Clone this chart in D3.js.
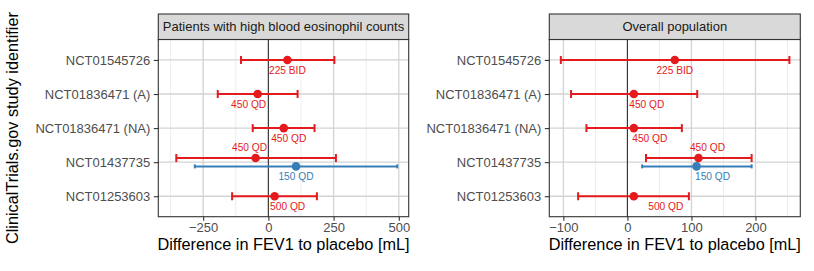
<!DOCTYPE html>
<html>
<head>
<meta charset="utf-8">
<script src="https://cdn.jsdelivr.net/npm/d3@7"></script>
<style>
  body { margin: 0; background: #fff; }
  svg { font-family: "Liberation Sans", Arial, Helvetica, sans-serif; }
</style>
</head>
<body>
<div id="chart"></div>
<script>
// Study identifiers (y categories, top to bottom)
var studies = ["NCT01545726", "NCT01836471 (A)", "NCT01836471 (NA)", "NCT01437735", "NCT01253603"];

// Rows shared by both panels
var rowStudy = ["NCT01545726", "NCT01836471 (A)", "NCT01836471 (NA)", "NCT01437735", "NCT01437735", "NCT01253603"];
var rowDose  = ["225 BID", "450 QD", "450 QD", "450 QD", "150 QD", "500 QD"];
var rowArm   = ["high", "high", "high", "high", "low", "high"];

// Patients with high blood eosinophil counts
var eosEst = [73, -41, 59, -49, 106, 24];
var eosLo  = [-105, -194, -60, -353, -282, -139];
var eosHi  = [253, 112, 177, 259, 494, 186];

// Overall population
var allEst = [74, 10, 10, 111, 108, 10];
var allLo  = [-104, -88, -64, 29, 23, -77];
var allHi  = [253, 109, 85, 194, 194, 96];

var eosTicks = [-250, 0, 250, 500];
var allTicks = [-100, 0, 100, 200];

// label nudges (px) so the text does not sit on top of the points
var eosLabelDx = [0, -9, 5, -6, 0, 13];
var allLabelDx = [0, 13, 16, 9, 16, 32];
var labelAbove = [false, false, false, true, false, false];

var W = 814, H = 271;
var svg = d3.select("#chart").append("svg")
    .attr("width", W)
    .attr("height", H);

var color = d3.scaleOrdinal()
    .domain(["high", "low"])
    .range(["#E41A1C", "#377EB8"]);

var panelTop = 39.5, panelBottom = 216.7, stripTop = 14;

// ggplot style: categories at step centres, 0.6 step expansion
var y = d3.scalePoint().domain(studies).range([panelTop, panelBottom]).padding(0.6);

function buildRows(est, lo, hi, labelDx) {
    return rowStudy.map(function(s, i) {
        return {study: s, dose: rowDose[i], arm: rowArm[i],
                est: est[i], lo: lo[i], hi: hi[i], ldx: labelDx[i], above: labelAbove[i]};
    });
}

function drawPanel(opt) {
    var x = d3.scaleLinear().domain(opt.domain).range([opt.left, opt.right]);
    var g = svg.append("g");

    // minor grid lines halfway between ticks
    var step = opt.ticks[1] - opt.ticks[0];
    var minor = d3.range(opt.ticks[0] - step / 2, opt.domain[1], step)
        .filter(function(v) { return v > opt.domain[0] && v < opt.domain[1]; });
    g.selectAll(".minor").data(minor).join("line")
        .attr("x1", function(d) { return x(d); }).attr("x2", function(d) { return x(d); })
        .attr("y1", panelTop).attr("y2", panelBottom)
        .attr("stroke", "#e8e8e8").attr("stroke-width", 0.8);

    g.selectAll(".majorx").data(opt.ticks).join("line")
        .attr("x1", function(d) { return x(d); }).attr("x2", function(d) { return x(d); })
        .attr("y1", panelTop).attr("y2", panelBottom)
        .attr("stroke", "#d3d3d3").attr("stroke-width", 1.3);

    g.selectAll(".majory").data(studies).join("line")
        .attr("x1", opt.left).attr("x2", opt.right)
        .attr("y1", function(d) { return y(d); }).attr("y2", function(d) { return y(d); })
        .attr("stroke", "#d3d3d3").attr("stroke-width", 1.3);

    // zero line
    g.append("line")
        .attr("x1", x(0)).attr("x2", x(0))
        .attr("y1", panelTop).attr("y2", panelBottom)
        .attr("stroke", "#333").attr("stroke-width", 1.1);

    var rows = buildRows(opt.est, opt.lo, opt.hi, opt.labelDx);
    // dodge rows that share a study
    rows.forEach(function(r) {
        var same = rows.filter(function(o) { return o.study === r.study; });
        var k = same.indexOf(r);
        r.cy = y(r.study) + (k - (same.length - 1) / 2) * 8.4;
        r.capH = same.length > 1 && r.arm === "low" ? 2 : 4;
    });

    var bars = g.selectAll(".bar").data(rows).join("g")
        .attr("stroke", function(d) { return color(d.arm); })
        .attr("stroke-width", 2);
    bars.append("line")
        .attr("x1", function(d) { return x(d.lo); }).attr("x2", function(d) { return x(d.hi); })
        .attr("y1", function(d) { return d.cy; }).attr("y2", function(d) { return d.cy; });
    bars.each(function(d) {
        var b = d3.select(this);
        [d.lo, d.hi].forEach(function(v) {
            b.append("line")
                .attr("x1", x(v)).attr("x2", x(v))
                .attr("y1", d.cy - d.capH).attr("y2", d.cy + d.capH);
        });
    });

    g.selectAll(".pt").data(rows).join("circle")
        .attr("cx", function(d) { return x(d.est); })
        .attr("cy", function(d) { return d.cy; })
        .attr("r", 4.3)
        .attr("fill", function(d) { return color(d.arm); });

    g.selectAll(".lab").data(rows).join("text")
        .attr("x", function(d) { return x(d.est) + d.ldx; })
        .attr("y", function(d) { return d.cy + (d.above ? -11 : 10.5); })
        .attr("dy", "0.35em")
        .attr("text-anchor", "middle")
        .attr("font-size", "10.2px")
        .attr("fill", function(d) { return color(d.arm); })
        .text(function(d) { return d.dose; });

    // panel border
    g.append("rect")
        .attr("x", opt.left).attr("y", panelTop)
        .attr("width", opt.right - opt.left).attr("height", panelBottom - panelTop)
        .attr("fill", "none").attr("stroke", "#333").attr("stroke-width", 1.1);

    // strip
    g.append("rect")
        .attr("x", opt.left).attr("y", stripTop)
        .attr("width", opt.right - opt.left).attr("height", panelTop - stripTop)
        .attr("fill", "#d9d9d9").attr("stroke", "#333").attr("stroke-width", 1.1);
    g.append("text")
        .attr("x", (opt.left + opt.right) / 2).attr("y", (stripTop + panelTop) / 2)
        .attr("dy", "0.35em")
        .attr("text-anchor", "middle")
        .attr("font-size", "13px")
        .attr("fill", "#1a1a1a")
        .text(opt.title);

    // axes
    var xAxis = g.append("g")
        .attr("transform", "translate(0," + panelBottom + ")")
        .call(d3.axisBottom(x).tickValues(opt.ticks).tickSize(4).tickPadding(2)
            .tickFormat(function(d) { return d3.format("")(d).replace("-", "\u2212"); }));
    var yAxis = g.append("g")
        .attr("transform", "translate(" + opt.left + ",0)")
        .call(d3.axisLeft(y).tickSize(4.5).tickPadding(3.5));
    [xAxis, yAxis].forEach(function(a) {
        a.select(".domain").remove();
        a.selectAll(".tick line").attr("stroke", "#333").attr("stroke-width", 1.1);
        a.selectAll(".tick text").attr("fill", "#4d4d4d")
            .attr("font-size", "13px").attr("font-family", null);
    });

    g.append("text")
        .attr("x", (opt.left + opt.right) / 2)
        .attr("y", 250)
        .attr("text-anchor", "middle")
        .attr("font-size", "16.3px")
        .attr("fill", "#000")
        .text("Difference in FEV1 to placebo [mL]");
}

drawPanel({left: 158.3, right: 408.7, domain: [-422, 538], ticks: eosTicks,
           est: eosEst, lo: eosLo, hi: eosHi, labelDx: eosLabelDx,
           title: "Patients with high blood eosinophil counts"});
drawPanel({left: 549.3, right: 800.3, domain: [-122, 270], ticks: allTicks,
           est: allEst, lo: allLo, hi: allHi, labelDx: allLabelDx,
           title: "Overall population"});

// Y axis label
svg.append("text")
    .attr("transform", "rotate(-90)")
    .attr("x", -(panelTop + panelBottom) / 2)
    .attr("y", 12)
    .attr("dy", "0.35em")
    .attr("text-anchor", "middle")
    .attr("font-size", "16.3px")
    .text("ClinicalTrials.gov study identifier");
</script>
</body>
</html>
